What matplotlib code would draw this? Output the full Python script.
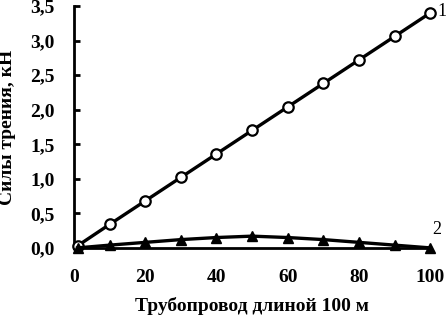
import matplotlib
matplotlib.use("Agg")
import matplotlib.pyplot as plt

# pipeline length positions, m
length = [1, 10, 20, 30, 40, 50, 60, 70, 80, 90, 100]
# friction force, kN
force_1 = [0.03, 0.34, 0.68, 1.02, 1.36, 1.70, 2.04, 2.38, 2.72, 3.06, 3.40]
force_2 = [0.00, 0.04, 0.08, 0.12, 0.15, 0.17, 0.15, 0.12, 0.08, 0.04, 0.00]

y_ticks = [0.0, 0.5, 1.0, 1.5, 2.0, 2.5, 3.0, 3.5]
y_tick_labels = ["0,0", "0,5", "1,0", "1,5", "2,0", "2,5", "3,0", "3,5"]
x_ticks = [0, 20, 40, 60, 80, 100]

plt.rcParams["font.family"] = ["Liberation Serif", "DejaVu Serif"]

fig = plt.figure(figsize=(4.47, 3.17), dpi=100)
ax = fig.add_axes([0.1655, 0.218, 0.797, 0.763])

ax.plot(length, force_1, color="black", lw=2.4, marker="o", ms=7.5,
        mfc="white", mec="black", mew=1.6, clip_on=False, zorder=3)
ax.plot(length, force_2, color="black", lw=2.4, marker="^", ms=7,
        mfc="black", mec="black", clip_on=False, zorder=3)

ax.text(101.9, 3.42, "1", fontsize=13, va="center", ha="left")
ax.text(100.6, 0.27, "2", fontsize=13, va="center", ha="left")

ax.set_xlim(0, 100)
ax.set_ylim(0, 3.5)
ax.set_yticks(y_ticks)
ax.set_yticklabels(y_tick_labels)
ax.set_xticks(x_ticks)

for side in ["top", "right"]:
    ax.spines[side].set_visible(False)
for side in ["left", "bottom"]:
    ax.spines[side].set_linewidth(2)

ax.tick_params(axis="y", direction="in", length=4, width=2, pad=14, labelsize=14)
ax.tick_params(axis="x", length=0, pad=15, labelsize=14)
for lbl in ax.get_xticklabels() + ax.get_yticklabels():
    lbl.set_fontweight("bold")

ax.set_xlabel("Трубопровод длиной 100 м", fontsize=14, fontweight="bold", labelpad=8)
ax.set_ylabel("Силы трения, кН", fontsize=14, fontweight="bold", labelpad=10)

fig.savefig("out.png", dpi=100)
